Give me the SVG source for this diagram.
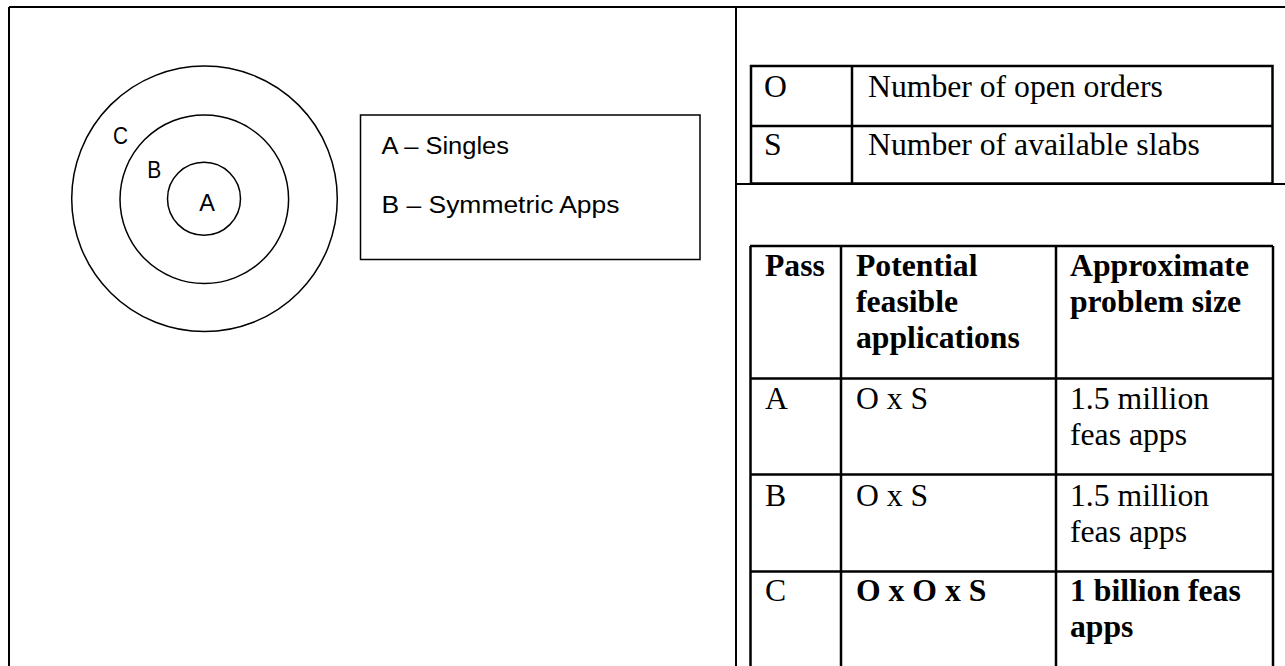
<svg xmlns="http://www.w3.org/2000/svg" width="1285" height="666" viewBox="0 0 1285 666">
<style>
.ln{stroke:#000;stroke-width:2.5;fill:none}
.fr{stroke:#000;stroke-width:2;fill:none}
.cir{stroke:#000;stroke-width:1.5;fill:none}
.sans{font-family:"Liberation Sans",Arial,sans-serif;font-size:23.5px;fill:#000}
.ser{font-family:"Liberation Serif","Times New Roman",serif;font-size:31.7px;fill:#000}
.b{font-weight:bold}
</style>
<rect width="1285" height="666" fill="#fff"/>
<g id="frame">
<path class="fr" d="M9,7 H1285 M9,7 V666 M736,7 V666 M736,184 H1285"/>
</g>
<g id="circles">
<circle class="cir" cx="204.5" cy="198.8" r="132.8"/>
<circle class="cir" cx="204.3" cy="199.2" r="84.3"/>
<circle class="cir" cx="204" cy="198.8" r="36.5"/>
<text class="sans" x="120.5" y="144.3" text-anchor="middle" textLength="15" lengthAdjust="spacingAndGlyphs">C</text>
<text class="sans" x="147.3" y="177.7" textLength="14" lengthAdjust="spacingAndGlyphs">B</text>
<text class="sans" x="199.3" y="211" textLength="15.7" lengthAdjust="spacingAndGlyphs">A</text>
</g>
<g id="legend">
<rect class="cir" x="360.5" y="115" width="339.5" height="144.5"/>
<text class="sans" x="381.5" y="153.5" textLength="127.5" lengthAdjust="spacingAndGlyphs">A – Singles</text>
<text class="sans" x="381.5" y="212.5" textLength="238" lengthAdjust="spacingAndGlyphs">B – Symmetric Apps</text>
</g>
<g id="table-vars">
<path class="ln" d="M751,66 H1272.5 V183.5 H751 Z M751,126 H1272.5 M852,66 V183.5"/>
<text class="ser" x="764" y="97">O</text>
<text class="ser" x="868" y="97">Number of open orders</text>
<text class="ser" x="764" y="155">S</text>
<text class="ser" x="868" y="155">Number of available slabs</text>
</g>
<g id="table-passes">
<path class="ln" d="M750,246 H1273 M750,378.5 H1273 M750,474.5 H1273 M750,571.5 H1273 M750.5,246 V666 M841,246 V666 M1056,246 V666 M1273,246 V666"/>
<text class="ser b" x="765" y="276">Pass</text>
<text class="ser b" x="856" y="276">Potential</text>
<text class="ser b" x="856" y="312">feasible</text>
<text class="ser b" x="856" y="348">applications</text>
<text class="ser b" x="1070" y="276">Approximate</text>
<text class="ser b" x="1070" y="312">problem size</text>
<text class="ser" x="765" y="409">A</text>
<text class="ser" x="856" y="409">O x S</text>
<text class="ser" x="1070" y="409">1.5 million</text>
<text class="ser" x="1070" y="445">feas apps</text>
<text class="ser" x="765" y="506">B</text>
<text class="ser" x="856" y="506">O x S</text>
<text class="ser" x="1070" y="506">1.5 million</text>
<text class="ser" x="1070" y="542">feas apps</text>
<text class="ser" x="765" y="601">C</text>
<text class="ser b" x="856" y="601">O x O x S</text>
<text class="ser b" x="1070" y="601">1 billion feas</text>
<text class="ser b" x="1070" y="637">apps</text>
</g>
</svg>
